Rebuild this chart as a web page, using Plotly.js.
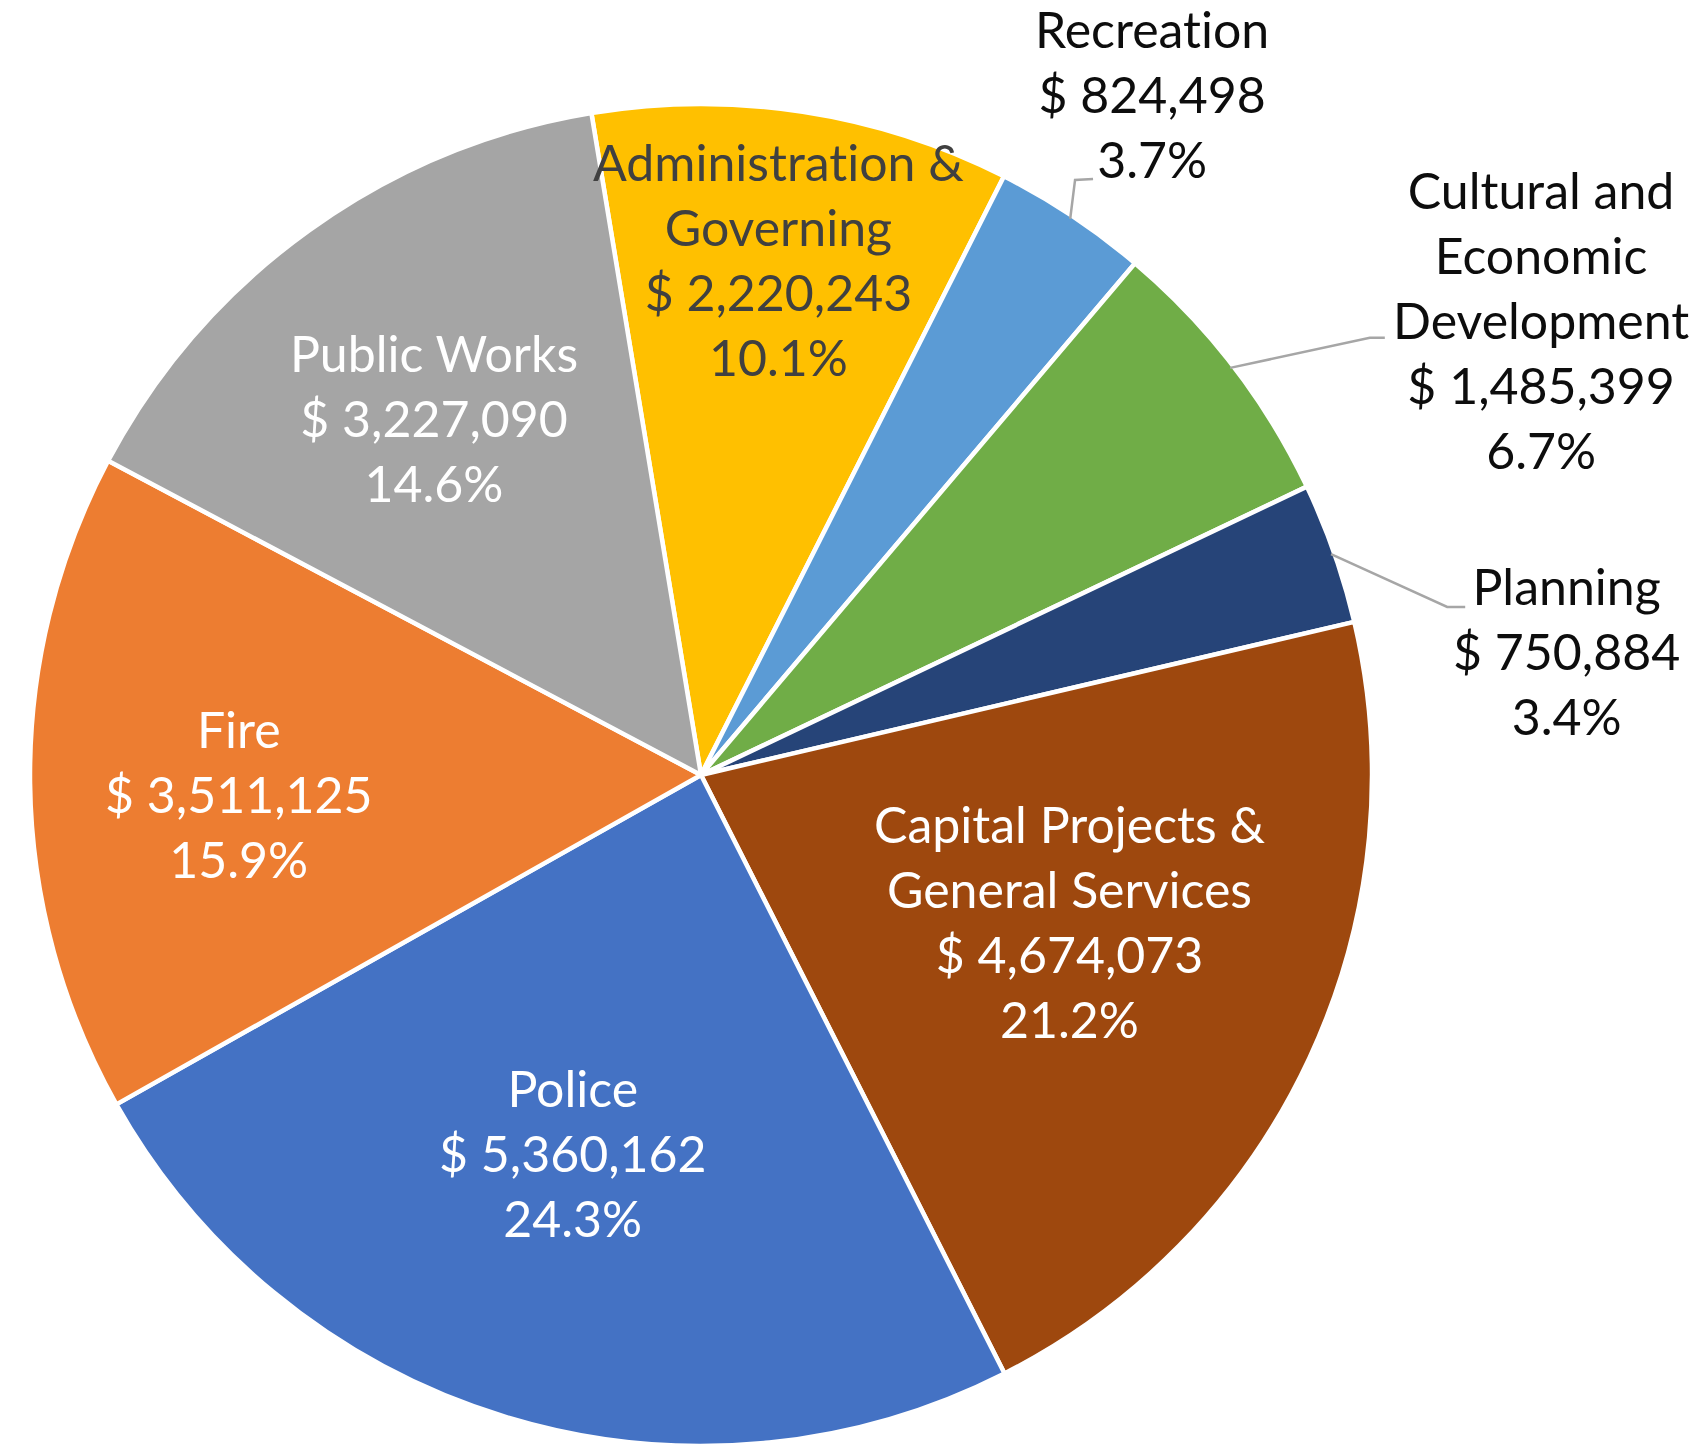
<!DOCTYPE html>
<html>
<head>
<meta charset="utf-8">
<script src="https://cdn.plot.ly/plotly-3.0.1.min.js"></script>
<style>
html, body { margin: 0; padding: 0; background: #ffffff; }
#chart { width: 1702px; height: 1448px; }
svg text { font-variant-ligatures: none !important; font-feature-settings: "liga" 0, "clig" 0 !important; }
</style>
</head>
<body>
<div id="chart"></div>
<script>
// ---- data ----
const categories = ["Administration & Governing", "Recreation", "Cultural and Economic Development", "Planning",
                    "Capital Projects & General Services", "Police", "Fire", "Public Works"];
const amounts = [2220243, 824498, 1485399, 750884, 4674073, 5360162, 3511125, 3227090];
const labelLines = ["Administration &<br>Governing", "Recreation", "Cultural and<br>Economic<br>Development", "Planning",
                    "Capital Projects &<br>General Services", "Police", "Fire", "Public Works"];

// ---- style ----
const sliceColors = ["#FFC000", "#5B9BD5", "#70AD47", "#264478", "#9E480E", "#4472C4", "#ED7D31", "#A5A5A5"];
const labelColors = ["#404040", "#0d0d0d", "#0d0d0d", "#0d0d0d", "#ffffff", "#ffffff", "#ffffff", "#ffffff"];
const labelOutside = [false, true, true, true, false, false, false, false];
const labelRadius = [0.772, 1.0, 1.0, 1.0, 0.592, 0.600, 0.688, 0.661];
const labelNudge = [[-1, -3], [80, -122], [308, -46], [232, 98], [8, -21], [-11, -7], [0, 13], [-8, 3]];
const leaderElbow = [null, [[-77, 86], [-59, 85]], [[-171, 18], [-156, 18]], [[-119, -44], [-101, -44]], null, null, null, null];

const W = 1702, H = 1448;
const CX = 701, CY = 775, R = 671;
const rotation = -9.4;
const FONT = "Lato, 'Open Sans', sans-serif";
const FSIZE = 50;

const total = amounts.reduce((a, b) => a + b, 0);
const mids = [];
let cum = 0;
amounts.forEach(v => {
  const a0 = rotation + cum / total * 360;
  cum += v;
  const a1 = rotation + cum / total * 360;
  mids.push((a0 + a1) / 2);
});
function polar(angDeg, r) {
  const a = angDeg * Math.PI / 180;
  return [CX + r * Math.sin(a), CY - r * Math.cos(a)];
}
const px2x = x => x / W;
const py2y = y => 1 - y / H;

const annotations = [];
const shapes = [];
amounts.forEach((v, i) => {
  const base = polar(mids[i], labelRadius[i] * R);
  const lx = base[0] + labelNudge[i][0];
  const ly = base[1] + labelNudge[i][1];
  const pct = (v / total * 100).toFixed(1) + "%";
  const txt = labelLines[i] + "<br>$ " + v.toLocaleString("en-US") + "<br>" + pct;
  annotations.push({
    text: txt, x: px2x(lx), y: py2y(ly), xref: "paper", yref: "paper",
    xanchor: "center", yanchor: "middle", align: "center", showarrow: false,
    font: { family: FONT, size: FSIZE, color: labelColors[i] }
  });
  if (labelOutside[i] && leaderElbow[i]) {
    const start = polar(mids[i], R * 0.995);
    const e1 = [lx + leaderElbow[i][0][0], ly + leaderElbow[i][0][1]];
    const e2 = [lx + leaderElbow[i][1][0], ly + leaderElbow[i][1][1]];
    shapes.push({
      type: "path", xref: "paper", yref: "paper",
      path: "M " + px2x(start[0]) + "," + py2y(start[1]) + " L " + px2x(e1[0]) + "," + py2y(e1[1]) +
            " L " + px2x(e2[0]) + "," + py2y(e2[1]),
      line: { color: "#A6A6A6", width: 2.5 }
    });
  }
});

const trace = {
  type: "pie",
  labels: categories,
  values: amounts,
  sort: false,
  direction: "clockwise",
  rotation: rotation,
  textinfo: "none",
  hoverinfo: "skip",
  marker: { colors: sliceColors, line: { color: "#ffffff", width: 4.5 } },
  domain: { x: [(CX - R) / W, (CX + R) / W], y: [(H - CY - R) / H, (H - CY + R) / H] },
  showlegend: false
};

const layout = {
  width: W, height: H,
  margin: { l: 0, r: 0, t: 0, b: 0, pad: 0 },
  paper_bgcolor: "#ffffff",
  plot_bgcolor: "#ffffff",
  showlegend: false,
  annotations: annotations,
  shapes: shapes
};

Plotly.newPlot("chart", [trace], layout, { staticPlot: true, displayModeBar: false });
</script>
</body>
</html>
